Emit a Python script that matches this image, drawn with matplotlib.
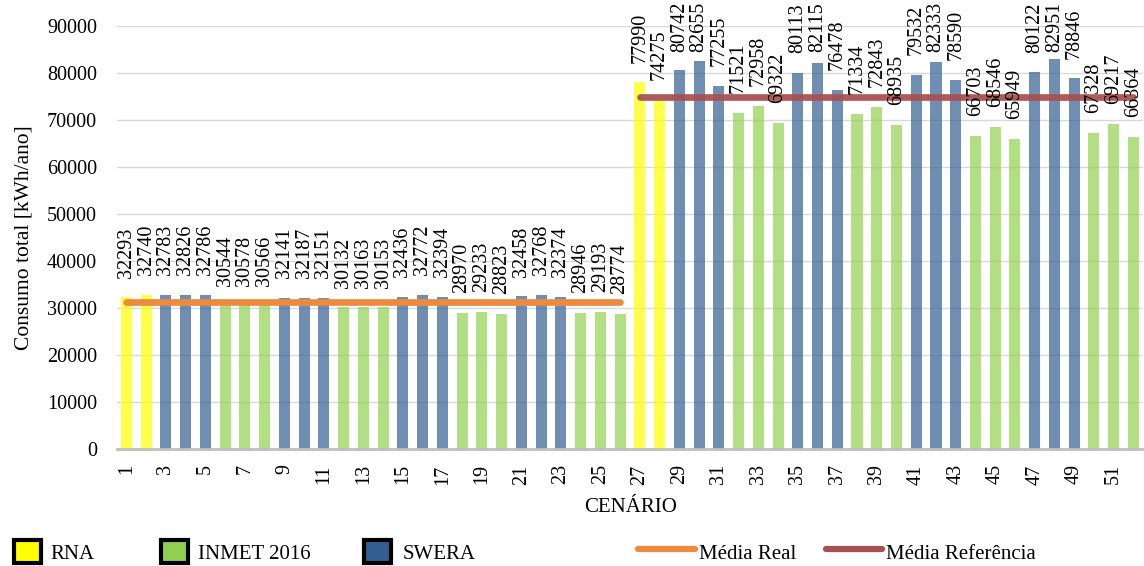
import numpy as np
import matplotlib
matplotlib.use('Agg')
import matplotlib.pyplot as plt
from matplotlib.patches import Patch
from matplotlib.lines import Line2D

plt.rcParams['font.family'] = ['Liberation Serif', 'DejaVu Serif']

# consumo anual por cenario
cenario = np.arange(1, 53)
consumo = [32293, 32740, 32783, 32826, 32786, 30544, 30578, 30566, 32141, 32187,
           32151, 30132, 30163, 30153, 32436, 32772, 32394, 28970, 29233, 28823,
           32458, 32768, 32374, 28946, 29193, 28774,
           77990, 74275, 80742, 82655, 77255, 71521, 72958, 69322, 80113, 82115,
           76478, 71334, 72843, 68935, 79532, 82333, 78590, 66703, 68546, 65949,
           80122, 82951, 78846, 67328, 69217, 66364]
fonte = (['RNA'] * 2 + (['SWERA'] * 3 + ['INMET 2016'] * 3) * 4) * 2

media_real = 31200
media_ref = 74800

cores = {'RNA': '#FFFF00', 'INMET 2016': '#92D050', 'SWERA': '#335F92'}

fig = plt.figure(figsize=(11.44, 5.66), dpi=100)
ax = fig.add_axes([0.1019, 0.2067, 0.8975, 0.7473])

ax.bar(cenario, consumo, width=0.56, color=[cores[f] for f in fonte], alpha=0.7, zorder=2)

# valores sobre as barras
for x, v in zip(cenario, consumo):
    ax.text(x, min(v + 4200, 84500), str(v), rotation=90, ha='center', va='bottom',
            fontsize=14.5, clip_on=False, zorder=4)

ax.plot([1, 26], [media_real, media_real], color='#EC8A3E', lw=4.8,
        solid_capstyle='round', zorder=3)
ax.plot([27, 52], [media_ref, media_ref], color='#A85152', lw=4.8,
        solid_capstyle='round', zorder=3, alpha=0.95)

ax.set_xlim(0.5, 52.5)
ax.set_ylim(0, 90000)
ax.set_yticks(np.arange(0, 90001, 10000))
ax.set_xticks(cenario[::2])
ax.set_xticklabels([str(c) for c in cenario[::2]], rotation=90)
ax.tick_params(axis='both', length=0, labelsize=14.5)
ax.tick_params(axis='y', pad=14)
ax.tick_params(axis='x', pad=11)
ax.grid(axis='y', color='#D9D9D9', lw=1, zorder=0)
for s in ['top', 'right', 'left']:
    ax.spines[s].set_visible(False)
ax.spines['bottom'].set_color('#BFBFBF')
ax.spines['bottom'].set_linewidth(2)
ax.spines['bottom'].set_zorder(3)

ax.set_ylabel('Consumo total [kWh/ano]', fontsize=15.5, labelpad=10)
fig.text(0.551, 0.104, 'CENÁRIO', ha='center', va='center', fontsize=15)

# legenda
itens = [
    (Patch(facecolor=cores['RNA'], edgecolor='black', lw=3), 'RNA', 0.012, 1.3, 0.45),
    (Patch(facecolor=cores['INMET 2016'], edgecolor='black', lw=3), 'INMET 2016', 0.141, 1.3, 0.45),
    (Patch(facecolor=cores['SWERA'], edgecolor='black', lw=3), 'SWERA', 0.3185, 1.3, 0.55),
    (Line2D([], [], color='#EC8A3E', lw=4.5, solid_capstyle='round'), 'Média Real', 0.558, 2.7, 0.2),
    (Line2D([], [], color='#A85152', lw=4.5, solid_capstyle='round'), 'Média Referência', 0.722, 2.7, 0.2),
]
for h, txt, xpos, hl, pad in itens:
    fig.legend(handles=[h], labels=[txt], loc='center left', bbox_to_anchor=(xpos, 0.025),
               frameon=False, fontsize=15, handlelength=hl, handleheight=1.3,
               handletextpad=pad, borderpad=0, borderaxespad=0)

fig.savefig('out.png', dpi=100)
